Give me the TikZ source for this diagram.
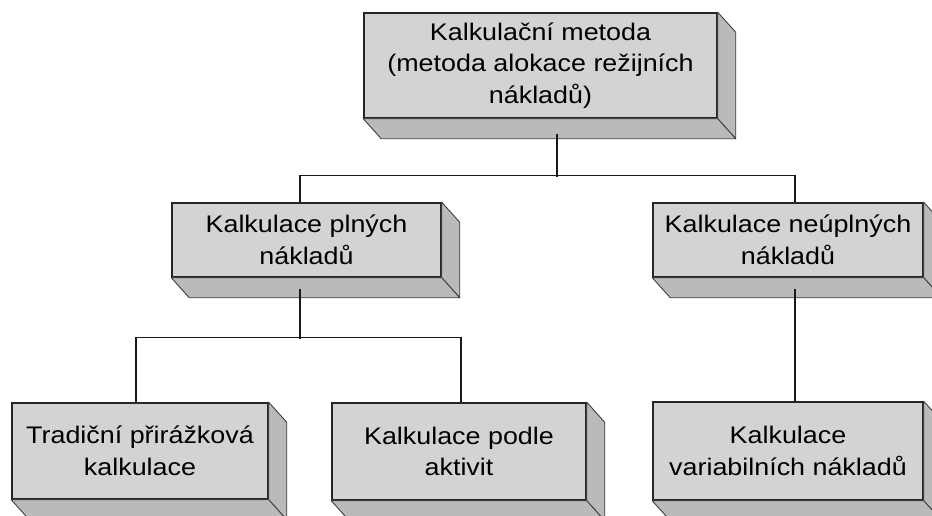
\documentclass[tikz,border=0pt]{standalone}
\usepackage{fontspec}
\setmainfont[FakeStretch=1.12]{Liberation Sans}
\definecolor{boxfront}{RGB}{211,211,211}
\definecolor{boxside}{RGB}{186,186,186}

\begin{document}
\begin{tikzpicture}[x=1pt, y=1pt,
        blok/.style={draw=black!85, line width=1.5pt, fill=boxfront, align=center, inner sep=0pt,
            font=\fontsize{24}{31.7}\selectfont},
        stena/.style={fill=boxside, draw=black!75, line width=0.9pt, line join=round},
        spoj/.style={draw=black!90, line width=1.3pt}]
            \useasboundingbox (0,0) rectangle (932,-516);

            \node[blok, minimum width=353pt, minimum height=105pt] (top) at (540.5,-65.5) {Kalkulační metoda\\(metoda alokace režijních\\nákladů)};
            \node[blok, minimum width=269pt, minimum height=74pt] (full) at (306.5,-240) {Kalkulace plných\\nákladů};
            \node[blok, minimum width=270pt, minimum height=74pt] (part) at (788,-240) {Kalkulace neúplných\\nákladů};
            \node[blok, minimum width=256pt, minimum height=96pt] (trad) at (140,-451) {Tradiční přirážková\\kalkulace};
            \node[blok, minimum width=254pt, minimum height=97pt] (abc) at (459,-451.5) {Kalkulace podle\\aktivit};
            \node[blok, minimum width=270pt, minimum height=98pt] (var) at (788,-451) {Kalkulace\\variabilních nákladů};

            % side faces
            \foreach \n in {top,full,part,trad,abc,var} {
                \path[stena] (\n.north east) -- ++(18,-20) -- ([shift={(18,-20)}]\n.south east) -- (\n.south east) -- cycle;
                \path[stena] (\n.south west) -- ++(18,-20) -- ([shift={(18,-20)}]\n.south east) -- (\n.south east) -- cycle;
            }

            \draw[spoj] ([xshift=16.5pt,yshift=-15pt]top.south) -- ++(0,-43);
            \draw[spoj] ([xshift=-6.5pt]full.north) -- ++(0,27) -| ([xshift=7pt]part.north);
            \draw[spoj] ([xshift=-6.5pt,yshift=-11pt]full.south) -- ++(0,-50);
            \draw[spoj] ([xshift=-4pt]trad.north) -- ++(0,65) -| ([xshift=2pt]abc.north);
            \draw[spoj] ([xshift=7pt,yshift=-11pt]part.south) -- ([xshift=7pt]var.north);
        \end{tikzpicture}
\end{document}
